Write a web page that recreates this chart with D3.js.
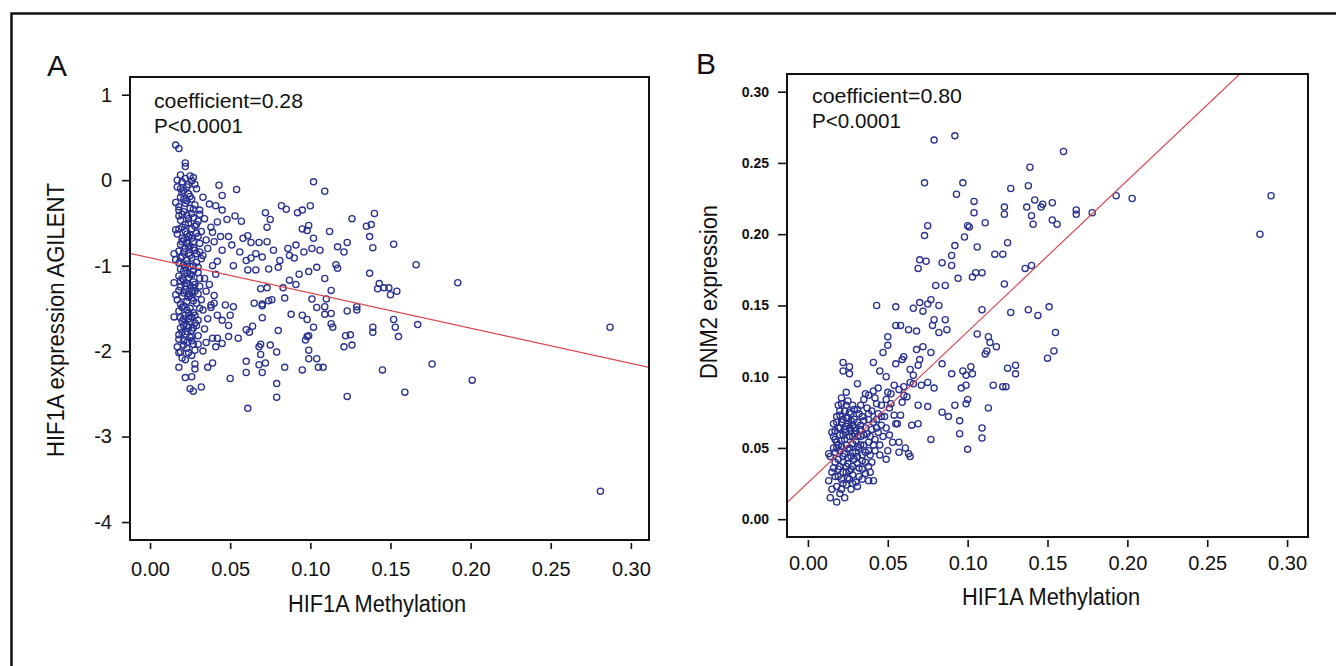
<!DOCTYPE html>
<html>
<head>
<meta charset="utf-8">
<script src="https://cdn.jsdelivr.net/npm/d3@7"></script>
<style>
  body { margin: 0; background: #fff; }
  svg { display: block; font-family: "Liberation Sans", Arial, sans-serif; }
</style>
</head>
<body>
<svg id="chart" width="1336" height="666"></svg>
<script>
// [HIF1A methylation, HIF1A expression AGILENT]
const pointsA = [
  [0.043,-0.06],[0.054,-0.11],[0.045,-0.18],[0.102,-0.02],[0.109,-0.13],[0.082,-0.30],[0.085,-0.34],[0.092,-0.38],[0.095,-0.35],[0.100,-0.30],
  [0.072,-0.38],[0.075,-0.46],[0.073,-0.55],[0.057,-0.48],[0.048,-0.46],[0.053,-0.42],[0.045,-0.35],[0.042,-0.49],[0.126,-0.45],[0.140,-0.39],
  [0.135,-0.54],[0.138,-0.52],[0.137,-0.66],[0.139,-0.79],[0.152,-0.75],[0.112,-0.60],[0.095,-0.57],[0.099,-0.53],[0.098,-0.59],[0.102,-0.68],
  [0.106,-0.82],[0.117,-0.78],[0.123,-0.73],[0.121,-0.84],[0.116,-0.99],[0.117,-1.03],[0.166,-0.99],[0.192,-1.20],[0.137,-1.09],[0.143,-1.21],
  [0.142,-1.27],[0.146,-1.26],[0.149,-1.26],[0.150,-1.34],[0.154,-1.30],[0.109,-1.15],[0.113,-1.29],[0.110,-1.39],[0.104,-1.02],[0.099,-1.07],
  [0.093,-1.10],[0.087,-1.17],[0.091,-1.22],[0.083,-1.26],[0.073,-1.26],[0.069,-1.27],[0.080,-1.02],[0.074,-1.04],[0.077,-0.82],[0.070,-0.90],
  [0.066,-0.86],[0.063,-0.91],[0.060,-0.94],[0.063,-0.73],[0.068,-0.73],[0.073,-0.72],[0.066,-1.05],[0.061,-1.05],[0.056,-0.84],[0.052,-1.00],
  [0.044,-0.66],[0.039,-0.61],[0.049,-0.66],[0.058,-0.68],[0.061,-0.65],[0.051,-0.76],[0.045,-0.82],[0.086,-0.80],[0.087,-0.88],[0.090,-0.91],
  [0.091,-0.76],[0.096,-0.84],[0.101,-0.80],[0.081,-0.94],[0.076,-1.40],[0.074,-1.41],[0.070,-1.45],[0.065,-1.44],[0.084,-1.38],[0.101,-1.39],
  [0.104,-1.49],[0.109,-1.57],[0.113,-1.56],[0.109,-1.48],[0.088,-1.57],[0.095,-1.58],[0.098,-1.63],[0.102,-1.72],[0.113,-1.68],[0.114,-1.72],
  [0.123,-1.53],[0.129,-1.48],[0.129,-1.52],[0.139,-1.72],[0.139,-1.78],[0.152,-1.63],[0.153,-1.72],[0.155,-1.83],[0.167,-1.69],[0.122,-1.82],
  [0.125,-1.81],[0.121,-1.95],[0.126,-1.93],[0.098,-1.83],[0.099,-1.82],[0.097,-1.87],[0.080,-1.76],[0.064,-1.71],[0.062,-1.78],[0.060,-1.75],
  [0.055,-1.85],[0.069,-1.92],[0.069,-2.04],[0.068,-1.95],[0.075,-1.93],[0.079,-2.01],[0.070,-1.61],[0.070,-1.47],[0.099,-1.99],[0.099,-2.09],
  [0.104,-2.09],[0.105,-2.19],[0.108,-2.19],[0.095,-2.22],[0.084,-2.19],[0.072,-2.14],[0.068,-2.16],[0.070,-2.25],[0.060,-2.12],[0.060,-2.25],
  [0.050,-2.32],[0.079,-2.38],[0.079,-2.54],[0.061,-2.67],[0.123,-2.53],[0.145,-2.22],[0.159,-2.48],[0.176,-2.15],[0.201,-2.34],[0.039,-2.14],
  [0.036,-2.19],[0.028,-2.15],[0.028,-2.21],[0.022,-2.31],[0.026,-2.30],[0.032,-2.42],[0.025,-2.44],[0.027,-2.47],[0.045,-1.91],[0.042,-1.85],
  [0.049,-1.83],[0.050,-1.58],[0.049,-1.70],[0.045,-1.64],[0.047,-1.46],[0.052,-1.48],[0.040,-1.44],[0.038,-1.49],
  [0.287,-1.72],[0.281,-3.64],
  // dense column near 0.02
  [0.017,-0.08],[0.021,-0.12],[0.024,-0.16],[0.019,-0.20],[0.026,-0.22],[0.022,-0.27],[0.018,-0.31],[0.025,-0.33],[0.028,-0.29],[0.021,-0.37],
  [0.023,-0.41],[0.027,-0.44],[0.019,-0.47],[0.024,-0.50],[0.030,-0.48],[0.020,-0.55],[0.026,-0.57],[0.022,-0.60],[0.017,-0.63],[0.029,-0.62],
  [0.024,-0.66],[0.021,-0.70],[0.027,-0.72],[0.019,-0.75],[0.025,-0.77],[0.031,-0.74],[0.022,-0.80],[0.018,-0.83],[0.028,-0.82],[0.024,-0.86],
  [0.020,-0.89],[0.026,-0.91],[0.023,-0.94],[0.016,-0.93],[0.029,-0.96],[0.021,-0.99],[0.025,-1.01],[0.019,-1.04],[0.027,-1.06],[0.023,-1.09],
  [0.030,-1.08],[0.018,-1.12],[0.024,-1.14],[0.021,-1.17],[0.027,-1.19],[0.025,-1.23],[0.019,-1.25],[0.022,-1.28],[0.028,-1.30],[0.024,-1.33],
  [0.020,-1.36],[0.026,-1.38],[0.017,-1.40],[0.023,-1.42],[0.029,-1.44],[0.021,-1.47],[0.025,-1.50],[0.018,-1.53],[0.027,-1.55],[0.022,-1.58],
  [0.024,-1.62],[0.020,-1.65],[0.028,-1.67],[0.023,-1.70],[0.019,-1.73],[0.026,-1.76],[0.022,-1.80],[0.025,-1.84],[0.021,-1.88],[0.027,-1.92],
  [0.023,-1.97],[0.019,-2.01],[0.026,-2.05],[0.022,-2.10],
  [0.020,-0.15],[0.023,-0.24],[0.026,-0.39],[0.018,-0.42],[0.022,-0.52],[0.028,-0.54],[0.025,-0.64],[0.020,-0.68],[0.023,-0.74],[0.027,-0.79],
  [0.021,-0.84],[0.025,-0.88],[0.018,-0.97],[0.022,-1.02],[0.026,-1.11],[0.020,-1.15],[0.023,-1.21],[0.027,-1.26],[0.021,-1.32],[0.025,-1.35],
  [0.019,-1.45],[0.023,-1.52],[0.026,-1.60],[0.021,-1.62],[0.024,-1.72],[0.020,-1.78],[0.026,-1.83],[0.023,-1.90],[0.018,-1.86],[0.028,-1.99],
  [0.024,-0.05],[0.029,-0.10],[0.016,-0.26],[0.031,-0.35],[0.016,-0.58],[0.032,-0.60],[0.015,-0.86],[0.032,-0.92],[0.015,-1.20],[0.031,-1.24],
  [0.016,-1.34],[0.032,-1.40],[0.015,-1.60],[0.030,-1.64],[0.017,-1.95],[0.030,-1.82],
  [0.033,-0.20],[0.034,-0.45],[0.035,-0.70],[0.033,-0.88],[0.034,-1.15],[0.035,-1.30],[0.033,-1.52],[0.034,-1.74],[0.035,-1.90],[0.033,-2.00],
  [0.037,-0.28],[0.038,-0.55],[0.036,-0.80],[0.039,-1.00],[0.037,-1.22],[0.038,-1.46],[0.036,-1.62],[0.039,-1.85],
  [0.041,-0.30],[0.040,-0.72],[0.042,-0.95],[0.041,-1.10],[0.040,-1.35],[0.042,-1.58],[0.041,-1.95],
  [0.016,0.41],[0.018,0.37],[0.022,0.20],[0.022,0.16],[0.017,0.00],[0.019,0.06],[0.022,0.02],[0.025,0.05],[0.027,0.03],[0.020,-0.02],[0.028,-0.05],
  [0.018,-2.19],[0.018,-2.02],
  [0.019,-0.10],[0.025,-0.19],[0.021,-0.23],[0.027,-0.34],[0.020,-0.40],[0.024,-0.45],[0.029,-0.52],[0.018,-0.57],[0.023,-0.63],[0.026,-0.68],
  [0.020,-0.72],[0.024,-0.78],[0.029,-0.86],[0.019,-0.91],[0.023,-0.98],[0.027,-1.00],[0.021,-1.06],[0.025,-1.10],[0.019,-1.18],[0.028,-1.22],
  [0.022,-1.24],[0.026,-1.30],[0.018,-1.29],[0.024,-1.37],[0.027,-1.41],[0.020,-1.49],[0.024,-1.55],[0.028,-1.58],[0.019,-1.61],[0.025,-1.66],
  [0.021,-1.70],[0.027,-1.73],[0.023,-1.77],[0.018,-1.81],[0.026,-1.88],[0.021,-1.93],[0.024,-2.02],[0.020,-2.08],[0.026,-0.01],[0.023,-0.08],
  [0.018,-0.35],[0.031,-0.40],[0.030,-0.66],[0.031,-0.84],[0.030,-1.02],[0.031,-1.15],[0.030,-1.33],[0.031,-1.50],[0.029,-1.70],[0.030,-1.92]
];

// [HIF1A methylation, DNM2 expression]
const pointsB = [
  [0.079,0.266],[0.092,0.269],[0.160,0.258],[0.139,0.247],[0.073,0.236],[0.097,0.236],[0.093,0.228],[0.127,0.232],[0.138,0.234],[0.104,0.223],
  [0.104,0.215],[0.123,0.219],[0.123,0.214],[0.111,0.208],[0.100,0.206],[0.101,0.205],[0.098,0.198],[0.092,0.192],[0.090,0.185],[0.090,0.178],
  [0.075,0.206],[0.073,0.199],[0.070,0.182],[0.074,0.181],[0.069,0.176],[0.084,0.180],[0.094,0.169],[0.103,0.170],[0.105,0.173],[0.109,0.173],
  [0.106,0.191],[0.117,0.186],[0.122,0.186],[0.125,0.194],[0.123,0.165],[0.136,0.176],[0.140,0.178],[0.142,0.224],[0.137,0.219],[0.140,0.213],
  [0.141,0.207],[0.147,0.221],[0.146,0.219],[0.153,0.222],[0.153,0.210],[0.156,0.207],[0.168,0.217],[0.168,0.214],[0.178,0.215],[0.193,0.227],
  [0.203,0.225],[0.080,0.164],[0.086,0.164],[0.043,0.150],[0.055,0.149],[0.066,0.148],[0.072,0.146],[0.070,0.152],[0.077,0.154],[0.075,0.151],
  [0.082,0.150],[0.079,0.140],[0.078,0.136],[0.086,0.140],[0.087,0.133],[0.082,0.131],[0.055,0.136],[0.058,0.136],[0.063,0.133],[0.068,0.132],
  [0.109,0.147],[0.127,0.145],[0.138,0.147],[0.144,0.143],[0.151,0.149],[0.155,0.131],[0.154,0.118],[0.150,0.113],[0.106,0.130],[0.113,0.128],
  [0.114,0.124],[0.118,0.121],[0.112,0.118],[0.111,0.116],[0.050,0.128],[0.050,0.122],[0.047,0.117],[0.041,0.110],[0.055,0.109],[0.059,0.112],
  [0.060,0.114],[0.068,0.119],[0.072,0.121],[0.077,0.117],[0.070,0.112],[0.069,0.108],[0.064,0.105],[0.084,0.109],[0.045,0.104],[0.049,0.100],
  [0.066,0.101],[0.075,0.096],[0.079,0.092],[0.071,0.094],[0.066,0.095],[0.090,0.102],[0.097,0.104],[0.099,0.101],[0.103,0.102],[0.102,0.107],
  [0.099,0.094],[0.096,0.092],[0.116,0.094],[0.122,0.093],[0.124,0.093],[0.125,0.106],[0.130,0.108],[0.130,0.102],[0.100,0.084],[0.099,0.081],
  [0.092,0.080],[0.113,0.078],[0.069,0.080],[0.075,0.079],[0.084,0.075],[0.088,0.072],[0.095,0.069],[0.095,0.060],[0.109,0.064],[0.109,0.057],
  [0.100,0.049],[0.077,0.056],[0.065,0.066],[0.069,0.067],[0.054,0.073],[0.058,0.073],[0.056,0.067],[0.052,0.081],[0.050,0.089],[0.060,0.087],
  [0.059,0.082],[0.057,0.054],[0.063,0.046],[0.064,0.044],[0.057,0.047],[0.049,0.042],
  [0.283,0.200],[0.290,0.227],
  [0.022,0.110],[0.026,0.107],[0.022,0.104],[0.026,0.102],[0.031,0.095],
  // dense cluster near 0.02
  [0.021,0.085],[0.025,0.083],[0.024,0.080],[0.019,0.080],[0.020,0.076],[0.028,0.080],[0.031,0.077],[0.032,0.074],[0.027,0.074],[0.018,0.072],
  [0.024,0.071],[0.016,0.067],[0.019,0.064],[0.025,0.067],[0.028,0.066],[0.015,0.061],[0.017,0.056],[0.020,0.059],[0.024,0.061],[0.030,0.062],
  [0.033,0.066],[0.036,0.064],[0.038,0.070],[0.041,0.068],[0.035,0.084],[0.038,0.087],[0.042,0.085],[0.044,0.092],[0.043,0.081],[0.046,0.080],
  [0.049,0.084],[0.051,0.078],[0.044,0.074],[0.038,0.074],[0.035,0.059],[0.038,0.054],[0.042,0.056],[0.044,0.061],[0.049,0.064],[0.051,0.059],
  [0.053,0.054],[0.050,0.048],[0.045,0.045],[0.042,0.048],[0.038,0.048],[0.034,0.045],[0.028,0.047],[0.025,0.049],[0.021,0.051],[0.017,0.047],
  [0.013,0.046],[0.017,0.040],[0.020,0.037],[0.024,0.033],[0.027,0.035],[0.031,0.039],[0.034,0.035],[0.038,0.037],[0.039,0.033],[0.038,0.027],
  [0.041,0.027],[0.034,0.028],[0.030,0.026],[0.026,0.028],[0.022,0.025],[0.018,0.023],[0.015,0.021],[0.015,0.033],[0.013,0.027],[0.014,0.015],
  [0.018,0.012],[0.023,0.015],[0.020,0.018],[0.027,0.021],[0.031,0.023],[0.055,0.067],[0.061,0.050],
  [0.019,0.030],[0.022,0.040],[0.025,0.043],[0.028,0.053],[0.021,0.055],[0.023,0.063],[0.026,0.058],[0.029,0.070],[0.018,0.050],[0.024,0.052],
  [0.027,0.062],[0.030,0.055],[0.032,0.050],[0.033,0.058],[0.031,0.068],[0.022,0.070],[0.026,0.075],[0.019,0.042],[0.024,0.037],[0.028,0.031],
  [0.021,0.028],[0.016,0.036],[0.029,0.042],[0.032,0.030],[0.036,0.040],[0.035,0.052],[0.037,0.060],[0.040,0.063],[0.039,0.045],[0.036,0.032],
  [0.020,0.064],[0.023,0.046],[0.026,0.034],[0.030,0.047],[0.034,0.072],[0.037,0.078],[0.040,0.076],[0.043,0.070],[0.046,0.066],[0.047,0.058],
  [0.045,0.052],[0.048,0.072],[0.052,0.088],[0.054,0.094],[0.057,0.091],[0.060,0.093],[0.062,0.086],[0.064,0.096],[0.041,0.090],[0.036,0.088],
  [0.033,0.080],[0.029,0.077],[0.024,0.089],[0.021,0.081],[0.017,0.062],[0.014,0.044],[0.022,0.033],[0.027,0.044],[0.031,0.058],[0.025,0.071],
  [0.020,0.048],[0.023,0.056],[0.026,0.050],[0.029,0.060],[0.024,0.065],[0.021,0.068],[0.018,0.054],[0.016,0.050],[0.022,0.044],[0.025,0.039],
  [0.028,0.037],[0.031,0.044],[0.033,0.052],[0.029,0.064],[0.027,0.069],[0.023,0.076],[0.020,0.073],[0.018,0.068],[0.016,0.058],[0.019,0.035],
  [0.021,0.021],[0.024,0.024],[0.028,0.025],[0.017,0.030],[0.025,0.029],[0.032,0.036],[0.034,0.041],[0.036,0.047],[0.033,0.063],[0.035,0.069],
  [0.039,0.058],[0.041,0.052],[0.040,0.040],[0.043,0.064],[0.046,0.072],[0.028,0.058],[0.031,0.051],[0.026,0.064],[0.022,0.059],[0.019,0.052]
];

const xTicks = [0, 0.05, 0.10, 0.15, 0.20, 0.25, 0.30];
const yTicksA = [1, 0, -1, -2, -3, -4];
const yTicksB = [0, 0.05, 0.10, 0.15, 0.20, 0.25, 0.30];
const fitA = [-0.908, -4.117];   // intercept, slope
const fitB = [0.0255, 1.061];
const statsA = ["coefficient=0.28", "P<0.0001"];
const statsB = ["coefficient=0.80", "P<0.0001"];
const xTitle = "HIF1A Methylation";
const yTitleA = "HIF1A expression AGILENT";
const yTitleB = "DNM2 expression";

const svg = d3.select("#chart");
const ink = "#111";

// outer frame (left and top edges visible)
svg.append("path")
  .attr("d", "M11.5,666 L11.5,13.5 L1336,13.5")
  .attr("fill", "none").attr("stroke", ink).attr("stroke-width", 2.5);

const panels = [
  {
    id: "A", pts: pointsA, fit: fitA, stats: statsA, yTicks: yTicksA, yTitle: yTitleA,
    xDomain: [-0.0125, 0.3113], yDomain: [-4.21, 1.207],
    box: {l: 130, t: 77, r: 649, b: 540},
    yFmt: d => String(d), yFont: "20px", yWeight: "normal", yTickSize: 7, yPad: 10,
    xTickY: 543, xTickSize: 6, xPad: 13,
    labelXY: [47, 76], statsXY: [154, 108], statsLen: [149, 89],
    yTitleXY: [64, 320], yTitleLen: 274, xTitleXY: [377, 612]
  },
  {
    id: "B", pts: pointsB, fit: fitB, stats: statsB, yTicks: yTicksB, yTitle: yTitleB,
    xDomain: [-0.0131, 0.3131], yDomain: [-0.0125, 0.3124],
    box: {l: 787, t: 74, r: 1308, b: 537},
    yFmt: d => d.toFixed(2), yFont: "14px", yWeight: "bold", yTickSize: 8, yPad: 9,
    xTickY: 540, xTickSize: 7, xPad: 9,
    labelXY: [696, 74], statsXY: [812, 103], statsLen: [150, 89],
    yTitleXY: [717, 292], yTitleLen: 174, xTitleXY: [1051, 605]
  }
];

function drawPanel(p) {
  const g = svg.append("g").attr("class", "panel-" + p.id);
  const x = d3.scaleLinear().domain(p.xDomain).range([p.box.l, p.box.r]);
  const y = d3.scaleLinear().domain(p.yDomain).range([p.box.b, p.box.t]);

  g.append("clipPath").attr("id", "clip" + p.id)
    .append("rect")
      .attr("x", p.box.l).attr("y", p.box.t)
      .attr("width", p.box.r - p.box.l).attr("height", p.box.b - p.box.t);

  // points
  g.append("g").attr("clip-path", "url(#clip" + p.id + ")")
    .selectAll("circle")
    .data(p.pts)
    .join("circle")
      .attr("cx", d => x(d[0]))
      .attr("cy", d => y(d[1]))
      .attr("r", 3.1)
      .attr("fill", "none")
      .attr("stroke", "#283190")
      .attr("stroke-width", 1.3);

  // fitted line
  const ends = p.xDomain.map(v => [v, p.fit[0] + p.fit[1] * v]);
  g.append("path")
    .datum(ends)
    .attr("clip-path", "url(#clip" + p.id + ")")
    .attr("d", d3.line().x(d => x(d[0])).y(d => y(d[1])))
    .attr("fill", "none")
    .attr("stroke", "#d9474f")
    .attr("stroke-width", 1.2);

  // box
  g.append("rect")
    .attr("x", p.box.l).attr("y", p.box.t)
    .attr("width", p.box.r - p.box.l).attr("height", p.box.b - p.box.t)
    .attr("fill", "none").attr("stroke", ink).attr("stroke-width", 2);

  // axes
  const xAxis = d3.axisBottom(x).tickValues(xTicks).tickFormat(d => d.toFixed(2))
    .tickSize(p.xTickSize).tickPadding(p.xPad);
  const gx = g.append("g").attr("transform", "translate(0," + p.xTickY + ")").call(xAxis);
  gx.select(".domain").remove();
  gx.selectAll("line").attr("stroke", ink).attr("stroke-width", 1.6);
  gx.selectAll("text").attr("fill", ink).style("font-size", "20px")
    .style("font-family", "'Liberation Sans', Arial, sans-serif");

  const yAxis = d3.axisLeft(y).tickValues(p.yTicks).tickFormat(p.yFmt)
    .tickSize(p.yTickSize).tickPadding(p.yPad);
  const gy = g.append("g").attr("transform", "translate(" + (p.box.l - 1) + ",0)").call(yAxis);
  gy.select(".domain").remove();
  gy.selectAll("line").attr("stroke", ink).attr("stroke-width", 1.6);
  gy.selectAll("text").attr("fill", ink).style("font-size", p.yFont)
    .style("font-weight", p.yWeight)
    .style("font-family", "'Liberation Sans', Arial, sans-serif");

  // panel letter
  g.append("text").attr("x", p.labelXY[0]).attr("y", p.labelXY[1])
    .attr("fill", ink).style("font-size", "30px").text(p.id);

  // statistics
  p.stats.forEach((s, i) => {
    g.append("text")
      .attr("x", p.statsXY[0]).attr("y", p.statsXY[1] + i * 25)
      .attr("textLength", p.statsLen[i]).attr("lengthAdjust", "spacingAndGlyphs")
      .attr("fill", ink).style("font-size", "21px").text(s);
  });

  // axis titles
  g.append("text")
    .attr("x", p.xTitleXY[0]).attr("y", p.xTitleXY[1])
    .attr("text-anchor", "middle")
    .attr("textLength", 178).attr("lengthAdjust", "spacingAndGlyphs")
    .attr("fill", ink).style("font-size", "23px").text(xTitle);

  g.append("text")
    .attr("transform", "translate(" + p.yTitleXY[0] + "," + p.yTitleXY[1] + ") rotate(-90)")
    .attr("text-anchor", "middle")
    .attr("textLength", p.yTitleLen).attr("lengthAdjust", "spacingAndGlyphs")
    .attr("fill", ink).style("font-size", "23px").text(p.yTitle);
}

panels.forEach(drawPanel);
</script>
</body>
</html>
